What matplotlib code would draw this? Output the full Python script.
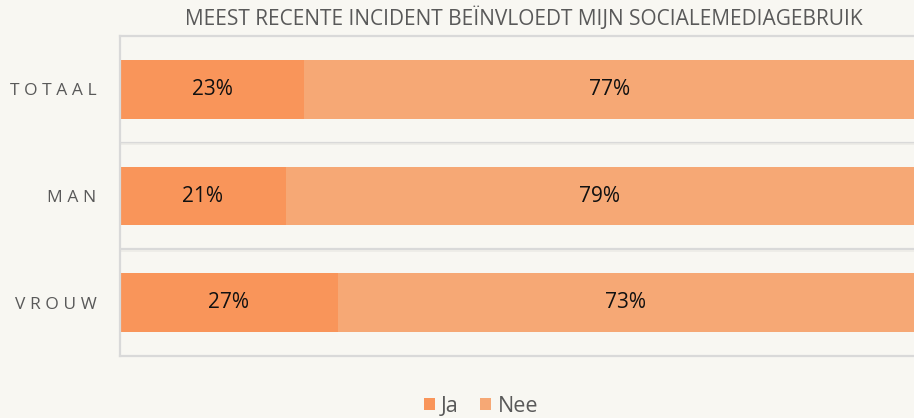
import matplotlib

matplotlib.use("Agg")
import matplotlib.pyplot as plt
from matplotlib.patches import Patch

# Gegevens
categorieen = ["TOTAAL", "MAN", "VROUW"]
ja = [23.2, 20.9, 27.4]
nee = [76.8, 79.1, 72.6]
reeksen = ["Ja", "Nee"]
titel = "MEEST RECENTE INCIDENT BEÏNVLOEDT MIJN SOCIALEMEDIAGEBRUIK"

kleur_ja = "#F9955A"
kleur_nee = "#F6A875"
achtergrond = "#F8F7F2"
lijn = "#D9D9D9"
tekst = "#595959"
fam = ["Open Sans", "DejaVu Sans"]

plt.rcParams["font.family"] = fam

fig = plt.figure(figsize=(9.14, 4.18), dpi=100, facecolor=achtergrond)
ax = fig.add_axes([120 / 914, 1 - 356 / 418, 794 / 914, 320 / 418])
ax.set_facecolor(achtergrond)

pos = list(range(len(categorieen)))
ax.barh(pos, ja, height=0.553, color=kleur_ja, edgecolor="none")
ax.barh(pos, nee, left=ja, height=0.553, color=kleur_nee, edgecolor="none")

for i in pos:
    ax.text(ja[i] / 2, i, f"{ja[i]:.0f}%", ha="center", va="center",
            fontsize=15, color="#111111")
    ax.text(ja[i] + nee[i] / 2, i, f"{nee[i]:.0f}%", ha="center", va="center",
            fontsize=15, color="#111111")

ax.set_xlim(0, 100)
ax.set_ylim(2.5, -0.5)

# scheidingslijnen tussen de categorieën
for y in [0.5, 1.5]:
    ax.axhline(y, color=lijn, lw=1.6)
    ax.axhline(y + 0.012, color="#ECEBE6", lw=1.2)

for kant in ["top", "bottom", "left"]:
    ax.spines[kant].set_color(lijn)
    ax.spines[kant].set_linewidth(1.6)
ax.spines["right"].set_visible(False)

ax.set_xticks([])
ax.set_yticks(pos)
ax.set_yticklabels(["\u2009\u200a".join(c) for c in categorieen],
                   fontsize=12.5, color=tekst)
ax.tick_params(axis="y", length=0, pad=17)

fig.text(524 / 914, 1 - 18 / 418, titel, ha="center", va="center",
         fontsize=15, color=tekst)

handles = [Patch(facecolor=kleur_ja), Patch(facecolor=kleur_nee)]
fig.legend(handles, reeksen, loc="center", bbox_to_anchor=(481 / 914, 1 - 406 / 418),
           ncol=2, frameon=False, fontsize=15.5, labelcolor=tekst,
           handlelength=0.5, handleheight=0.5, handletextpad=0.3, columnspacing=1.0)

fig.savefig("out.png", dpi=100, facecolor=achtergrond)
